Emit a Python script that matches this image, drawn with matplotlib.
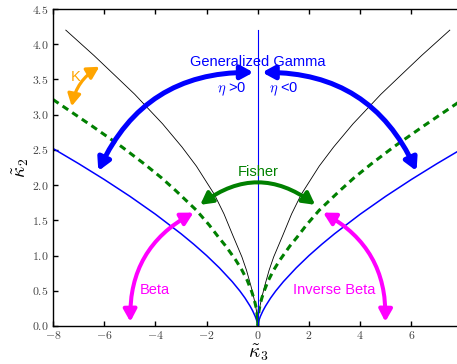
import matplotlib
matplotlib.use("Agg")
import matplotlib.pyplot as plt
from matplotlib.patches import ArrowStyle

plt.rcParams['font.family'] = ['Liberation Sans', 'DejaVu Sans']
plt.rcParams['mathtext.fontset'] = 'cm'

# ---- data (left branch; the right branch is its mirror image) ----
# lower bound (blue)
bound_k3 = [-8.0, -7.0, -6.0, -5.0, -4.0, -3.0, -2.5, -2.0, -1.5, -1.0, -0.7, -0.5, -0.3,
            -0.2, -0.1, -0.05, -0.02, -0.005, 0.0]
bound_k2 = [2.520, 2.305, 2.080, 1.842, 1.587, 1.310, 1.160, 1.000, 0.825, 0.630, 0.497, 0.397,
            0.282, 0.215, 0.136, 0.0855, 0.0464, 0.0184, 0.0]

# upper limit of the K region (black)
black_k3 = [-7.50, -6.40, -5.56, -4.81, -3.72, -2.96, -2.40, -1.70, -1.32, -0.98, -0.62,
            -0.44, -0.34, -0.27, -0.18, -0.10, -0.05, -0.012, -0.002, 0.0]
black_k2 = [4.20, 3.84, 3.55, 3.29, 2.87, 2.54, 2.27, 1.87, 1.59, 1.29, 0.98,
            0.79, 0.66, 0.57, 0.44, 0.31, 0.21, 0.10, 0.04, 0.0]

# gamma / inverse gamma curve (green dashed)
gamma_k3 = [-8.0, -6.44, -5.30, -4.43, -3.75, -3.20, -2.404, -1.90, -1.55, -1.25, -0.86,
            -0.62, -0.41, -0.24, -0.156, -0.109, -0.080, -0.0488, -0.0235, -0.0111,
            -0.0026, -0.0004, 0.0]
gamma_k2 = [3.215, 2.83, 2.54, 2.30, 2.10, 1.92, 1.645, 1.434, 1.268, 1.134, 0.935,
            0.794, 0.645, 0.490, 0.395, 0.330, 0.284, 0.221, 0.154, 0.105,
            0.051, 0.020, 0.0]

vline_k2 = [0.0, 4.20]

xticks = [-8, -6, -4, -2, 0, 2, 4, 6]
yticks = [0.0, 0.5, 1.0, 1.5, 2.0, 2.5, 3.0, 3.5, 4.0, 4.5]

# arrows: (start, end, colour, linewidth, rad)
arrows = [
    ((-6.23, 2.20), (-0.17, 3.60), 'blue', 3.6, -0.32),
    ((0.17, 3.60), (6.20, 2.20), 'blue', 3.6, -0.32),
    ((-2.25, 1.72), (2.24, 1.72), 'green', 2.9, -0.37),
    ((-4.98, 0.06), (-2.51, 1.61), 'magenta', 2.9, -0.30),
    ((2.55, 1.61), (4.98, 0.06), 'magenta', 2.9, -0.30),
    ((-7.27, 3.12), (-6.19, 3.68), 'orange', 2.3, -0.22),
]

labels = [
    ("Generalized Gamma", 0.0, 3.75, 'blue'),
    (r"$\eta$ >0", -1.0, 3.36, 'blue'),
    (r"$\eta$ <0", 1.0, 3.36, 'blue'),
    ("Fisher", 0.0, 2.18, 'green'),
    ("K", -7.13, 3.54, 'orange'),
    ("Beta", -4.04, 0.51, 'magenta'),
    ("Inverse Beta", 3.0, 0.51, 'magenta'),
]

fig = plt.figure(figsize=(4.57, 3.64), dpi=100)
ax = fig.add_axes([53 / 457, 38 / 364, 409.6 / 457, 317 / 364])

neg = lambda v: [-t for t in v]

ax.plot(bound_k3, bound_k2, color='blue', lw=1.1)
ax.plot(neg(bound_k3), bound_k2, color='blue', lw=1.1)
ax.plot(black_k3, black_k2, color='black', lw=0.6)
ax.plot(neg(black_k3), black_k2, color='black', lw=0.6)
ax.plot(gamma_k3, gamma_k2, color='green', lw=2.2, dashes=(2.2, 1.6))
ax.plot(neg(gamma_k3), gamma_k2, color='green', lw=2.2, dashes=(2.2, 1.6))
ax.plot([0, 0], vline_k2, color='blue', lw=0.8)

for (a, b, c, lw, rad) in arrows:
    ax.annotate('', xy=b, xytext=a,
                arrowprops=dict(arrowstyle=ArrowStyle('<|-|>', head_length=0.55, head_width=0.3),
                                mutation_scale=13, color=c, lw=lw,
                                shrinkA=0, shrinkB=0,
                                connectionstyle=f'arc3,rad={rad}'))

for (t, x, y, c) in labels:
    ax.text(x, y, t, color=c, fontsize=10.5, ha='center', va='center')

ax.set_xlim(-8, 8)
ax.set_ylim(0, 4.5)
ax.set_xticks(xticks)
ax.set_xticklabels([f"${v}$" for v in xticks])
ax.set_yticks(yticks)
ax.set_yticklabels([f"${v:.1f}$" for v in yticks])
ax.tick_params(direction='in', length=3.5, width=1, labelsize=8.5, labelcolor='#444444',
               top=True, right=False, pad=3)
ax.spines['right'].set_visible(False)
for s in ['left', 'bottom', 'top']:
    ax.spines[s].set_linewidth(1.0)

ax.set_xlabel(r"$\tilde{\kappa}_3$", fontsize=14, labelpad=0)
ax.set_ylabel(r"$\tilde{\kappa}_2$", fontsize=14, labelpad=1)

fig.savefig('out.png', dpi=100)
